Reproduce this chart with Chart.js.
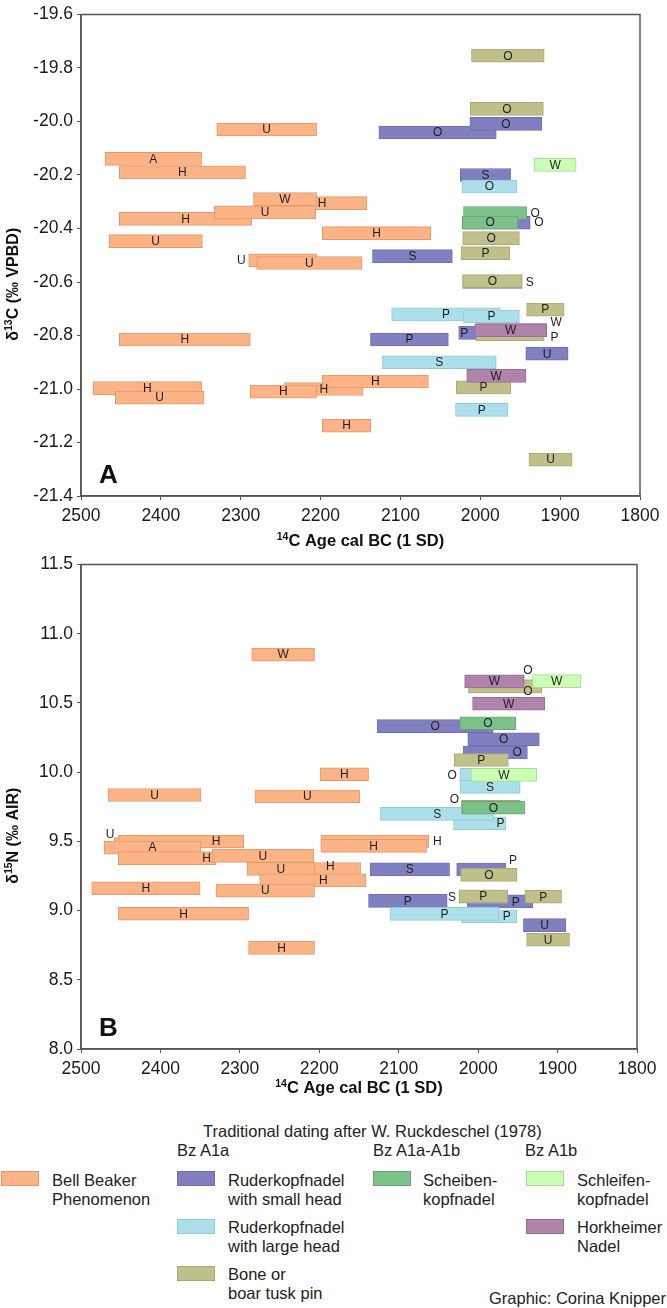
<!DOCTYPE html>
<html>
<head>
<meta charset="utf-8">
<script src="https://cdn.jsdelivr.net/npm/chart.js@4.4.0/dist/chart.umd.min.js"></script>
<style>
  body { margin: 0; background: #fff; width: 667px; height: 1308px; position: relative; overflow: hidden;
         font-family: "Liberation Sans", Arial, sans-serif; color: #222; }
  canvas { position: absolute; left: 0; }
  #isoC { top: 0; }
  #isoN { top: 550px; }
  .t { position: absolute; font-size: 16.5px; line-height: 18.5px; white-space: nowrap; }
  .sw { position: absolute; width: 36px; height: 13px; border: 1px solid; }
</style>
</head>
<body>
<canvas id="isoC" width="667" height="550"></canvas>
<canvas id="isoN" width="667" height="555"></canvas>

<div class="t" style="left:203px;top:1122px">Traditional dating after W. Ruckdeschel (1978)</div>
<div class="t" style="left:177px;top:1141px">Bz A1a</div>
<div class="t" style="left:373px;top:1141px">Bz A1a-A1b</div>
<div class="t" style="left:525px;top:1141px">Bz A1b</div>

<div class="sw" style="left:1px;top:1171px;background:#fcb386;border-color:#e09a6e"></div>
<div class="t" style="left:52px;top:1171px">Bell Beaker<br>Phenomenon</div>
<div class="sw" style="left:177px;top:1171px;background:#8080c0;border-color:#7070b0"></div>
<div class="t" style="left:228px;top:1171px">Ruderkopfnadel<br>with small head</div>
<div class="sw" style="left:177px;top:1219px;background:#addfeb;border-color:#93c8d6"></div>
<div class="t" style="left:228px;top:1218px">Ruderkopfnadel<br>with large head</div>
<div class="sw" style="left:177px;top:1266px;background:#c0c08a;border-color:#a8a874"></div>
<div class="t" style="left:228px;top:1265px">Bone or<br>boar tusk pin</div>
<div class="sw" style="left:373px;top:1171px;background:#7dc18a;border-color:#66a874"></div>
<div class="t" style="left:423px;top:1171px">Scheiben-<br>kopfnadel</div>
<div class="sw" style="left:526px;top:1171px;background:#ccfdb5;border-color:#a9dd94"></div>
<div class="t" style="left:577px;top:1171px">Schleifen-<br>kopfnadel</div>
<div class="sw" style="left:526px;top:1219px;background:#b083ab;border-color:#966c92"></div>
<div class="t" style="left:577px;top:1218px">Horkheimer<br>Nadel</div>
<div class="t" style="right:1px;top:1289px">Graphic: Corina Knipper</div>

<script>
// series order = drawing order (first drawn at the bottom)
const seriesKeys = ['bellBeaker', 'rkSmall', 'rkLarge', 'bonePin', 'scheiben', 'schleifen', 'horkheimer'];
const seriesNames = ['Bell Beaker Phenomenon', 'Ruderkopfnadel with small head', 'Ruderkopfnadel with large head',
                     'Bone or boar tusk pin', 'Scheibenkopfnadel', 'Schleifenkopfnadel', 'Horkheimer Nadel'];
const fills = ['#fcb386', '#8080c0', '#addfeb', '#c0c08a', '#7dc18a', '#ccfdb5', '#b083ab'];
const edges = ['#e09a6e', '#7070b0', '#93c8d6', '#a8a874', '#66a874', '#a9dd94', '#966c92'];

const yearTicks = [2500, 2400, 2300, 2200, 2100, 2000, 1900, 1800];
const carbonTicks = [-21.4, -21.2, -21.0, -20.8, -20.6, -20.4, -20.2, -20.0, -19.8, -19.6];
const nitrogenTicks = [8.0, 8.5, 9.0, 9.5, 10.0, 10.5, 11.0, 11.5];

// rows: [cal BC from, cal BC to, isotope value, site code]
// panel A, d13C
const carbonBellBeaker = [
  [2330, 2205, -20.03, 'U'], [2470, 2349, -20.14, 'A'], [2452, 2294, -20.19, 'H'],
  [2254, 2142, -20.305, 'H'], [2284, 2205, -20.29, 'W'], [2452, 2286, -20.364, 'H'],
  [2333, 2206, -20.34, 'U'], [2465, 2348, -20.447, 'U'], [2198, 2062, -20.417, 'H'],
  [2290, 2205, -20.519, 'U'], [2280, 2148, -20.529, 'U'], [2452, 2288, -20.815, 'H'],
  [2485, 2349, -20.997, 'H'], [2457, 2346, -21.032, 'U'], [2245, 2147, -21.0, 'H'],
  [2288, 2205, -21.01, 'H'], [2198, 2065, -20.972, 'H'], [2198, 2137, -21.137, 'H']
];
const carbonRkSmall = [
  [2127, 1980, -20.041, 'O'], [2013, 1923, -20.009, 'O'], [2025, 1962, -20.2, 'S'],
  [2020, 1937.5, -20.378, 'O'], [2135, 2035, -20.503, 'S'], [2022, 1948, -20.6, 'S'],
  [2027, 1931, -20.79, 'P'], [2137.5, 2040, -20.815, 'P'], [1943, 1890, -20.868, 'U']
];
const carbonRkLarge = [
  [2023, 1954, -20.243, 'O'], [2111, 1975, -20.721, 'P'], [2021, 1951, -20.729, 'P'],
  [2122.5, 1980, -20.9, 'S'], [2031, 1965.5, -21.078, 'P']
];
const carbonBonePin = [
  [2011, 1920, -19.754, 'O'], [2012.5, 1921, -19.953, 'O'], [2022, 1951, -20.436, 'O'],
  [2024, 1963, -20.492, 'P'], [2022, 1947.5, -20.597, 'O'], [1942, 1895, -20.703, 'P'],
  [2005, 1920, -20.795, 'P'], [2030, 1962, -20.994, 'P'], [1939, 1885, -21.264, 'U']
];
const carbonScheiben = [[2021, 1942, -20.342, 'O'], [2022.5, 1953, -20.378, 'O']];
const carbonSchleifen = [[1932.5, 1880, -20.162, 'W']];
const carbonHorkheimer = [[2005, 1917, -20.78, 'W'], [2007, 1917, -20.781, 'W'], [2017, 1943, -20.951, 'W']];

// panel B, d15N
const nitrogenBellBeaker = [
  [2285, 2206, 10.849, 'W'], [2199, 2138, 9.985, 'H'], [2466, 2349, 9.835, 'U'],
  [2281, 2149, 9.824, 'U'], [2458, 2350, 9.48, 'U'], [2453, 2295, 9.499, 'H'],
  [2471, 2349, 9.455, 'A'], [2453, 2330, 9.379, 'H'], [2335, 2207, 9.395, 'U'],
  [2270, 2148, 9.30, 'H'], [2291, 2206, 9.301, 'U'], [2275, 2141, 9.218, 'H'],
  [2198, 2062, 9.499, 'H'], [2198, 2065, 9.467, 'H'], [2486.5, 2350, 9.161, 'H'],
  [2330, 2206, 9.144, 'U'], [2453, 2289, 8.977, 'H'], [2289, 2206, 8.731, 'H']
];
const nitrogenRkSmall = [
  [2127, 1981, 10.333, 'O'], [2013, 1923, 10.237, 'O'], [2019, 1938, 10.142, 'O'],
  [2136, 2036, 9.298, 'S'], [2027, 1965, 9.297, 'P'], [2138, 2039, 9.07, 'P'],
  [2014, 1931, 9.066, 'P'], [1943, 1889.5, 8.895, 'U']
];
const nitrogenRkLarge = [
  [2023, 1985, 9.98, 'O'], [2023, 1947, 9.893, 'S'], [2031, 1965, 9.631, 'P'],
  [2123, 1980, 9.698, 'S'], [2024, 1963, 9.10, 'S'], [2021, 1951, 8.958, 'P'],
  [2111, 1974, 8.976, 'P']
];
const nitrogenBonePin = [
  [2012, 1920, 10.62, 'O'], [2012, 1920, 10.62, 'O'], [2030, 1962, 10.088, 'P'],
  [2021, 1947, 9.749, 'O'], [2022, 1951, 9.258, 'O'], [2024, 1963, 9.102, 'P'],
  [1941, 1895, 9.1, 'P'], [1939, 1885, 8.789, 'U']
];
const nitrogenScheiben = [[2023, 1952.5, 10.353, 'O'], [2020, 1941.5, 9.743, 'O']];
const nitrogenSchleifen = [[1931.5, 1870.6, 10.658, 'W'], [2009, 1926, 9.98, 'W']];
const nitrogenHorkheimer = [[2017, 1942, 10.656, 'W'], [2007, 1916, 10.494, 'W']];

// where a site code is not centred on its bar: 'r' right of bar, 'l' left of bar, [year, value] anchor
const carbonTagSpots = {
  bellBeaker: { 9: 'l' },
  rkSmall: { 3: 'r', 5: 'r', 6: [2020, -20.79] },
  bonePin: { 6: [1907, -20.805] },
  scheiben: { 0: 'r' },
  horkheimer: { 0: [1905, -20.752] }
};
const nitrogenTagSpots = {
  bellBeaker: { 4: [2463.5, 9.552], 5: [2330, 9.499], 7: [2342, 9.379], 9: [2186, 9.321], 11: [2195, 9.218], 12: 'r' },
  rkSmall: { 2: [1951, 10.141], 4: [1956, 9.364], 6: [1952.5, 9.064] },
  rkLarge: { 0: 'l', 2: [1972, 9.631], 4: 'l', 5: [1964, 8.958] },
  bonePin: { 0: [1937.4, 10.586], 1: [1937.4, 10.735], 3: [2030, 9.802] }
};

const FONT = '"Liberation Sans", Arial, sans-serif';
Chart.defaults.font.family = FONT;

function buildDatasets(rows, spots) {
  return seriesKeys.map((key, i) => ({
    label: seriesNames[i],
    key: key,
    spots: spots[key] || {},
    data: rows[key].map(r => ({ x: [r[0], r[1]], y: r[2], code: r[3] })),
    backgroundColor: fills[i],
    borderColor: edges[i],
    borderWidth: 1,
    borderSkipped: false,
    barThickness: 13,
    grouped: false,
    order: seriesKeys.length - i
  }));
}

// site codes on the bars
const tagPlugin = {
  id: 'tags',
  afterDatasetsDraw(chart) {
    const ctx = chart.ctx, xs = chart.scales.x, ys = chart.scales.y;
    ctx.save();
    ctx.font = '12px ' + FONT;
    ctx.fillStyle = '#1e1e1e';
    ctx.textBaseline = 'middle';
    chart.data.datasets.forEach((ds, di) => {
      chart.getDatasetMeta(di).data.forEach((bar, j) => {
        const spot = ds.spots[j];
        const left = Math.min(bar.x, bar.base), right = Math.max(bar.x, bar.base);
        let x = (left + right) / 2, y = bar.y;
        ctx.textAlign = 'center';
        if (spot === 'r') { x = right + 4; ctx.textAlign = 'left'; }
        else if (spot === 'l') { x = left - 3; ctx.textAlign = 'right'; }
        else if (Array.isArray(spot)) { x = xs.getPixelForValue(spot[0]); y = ys.getPixelForValue(spot[1]); }
        ctx.fillText(ds.data[j].code, x, y + 0.5);
      });
    });
    ctx.restore();
  }
};

function drawRich(ctx, parts, cx, baseY) {
  let w = 0;
  parts.forEach(p => { ctx.font = p.font; w += ctx.measureText(p.text).width; });
  let x = cx - w / 2;
  ctx.textAlign = 'left';
  ctx.textBaseline = 'alphabetic';
  parts.forEach(p => {
    ctx.font = p.font;
    ctx.fillText(p.text, x, baseY - (p.rise || 0));
    x += ctx.measureText(p.text).width;
  });
}

// frame, axis titles with superscripts and the panel letter
function makeDecor(cfg) {
  return {
    id: 'decor',
    afterDraw(chart) {
      const ctx = chart.ctx, a = chart.chartArea;
      ctx.save();
      ctx.strokeStyle = '#555';
      ctx.lineWidth = 1.5;
      ctx.strokeRect(a.left, a.top, a.right - a.left, a.bottom - a.top);

      ctx.fillStyle = '#111';
      ctx.font = 'bold 26px ' + FONT;
      ctx.textAlign = 'left';
      ctx.textBaseline = 'alphabetic';
      ctx.fillText(cfg.letter, a.left + 18, a.bottom - 13);

      const big = 'bold 16.5px ' + FONT, sup = 'bold 10.5px ' + FONT;
      drawRich(ctx, [{ text: '14', font: sup, rise: 6 }, { text: 'C Age cal BC (1 SD)', font: big }],
               (a.left + a.right) / 2, a.bottom + cfg.xTitleGap);

      const yBig = 'bold 16px ' + FONT, ySup = 'bold 10.5px ' + FONT;
      ctx.translate(12, (a.top + a.bottom) / 2 + 29);
      ctx.rotate(-Math.PI / 2);
      drawRich(ctx, [{ text: 'δ', font: yBig }, { text: cfg.isotope[0], font: ySup, rise: 6 },
                     { text: cfg.isotope[1], font: yBig }], 0, 6);
      ctx.restore();
    }
  };
}

function makeChart(id, rows, spots, ticks, pad, xHeight, decor) {
  const tickFont = { size: 17.5, family: FONT };
  return new Chart(document.getElementById(id), {
    type: 'bar',
    data: { datasets: buildDatasets(rows, spots) },
    options: {
      indexAxis: 'y',
      responsive: false,
      animation: false,
      devicePixelRatio: 1,
      layout: { padding: pad },
      plugins: { legend: { display: false }, tooltip: { enabled: false } },
      scales: {
        x: {
          type: 'linear', position: 'bottom', reverse: true,
          min: yearTicks[yearTicks.length - 1], max: yearTicks[0],
          afterBuildTicks: s => { s.ticks = yearTicks.map(v => ({ value: v })); },
          afterFit: s => { s.height = xHeight; },
          ticks: { callback: v => String(v), font: tickFont, color: '#1a1a1a', padding: 6, maxRotation: 0, autoSkip: false },
          grid: { drawOnChartArea: false, drawTicks: true, tickLength: 4, color: '#555', offset: false },
          border: { color: '#555', width: 1.5 }
        },
        y: {
          type: 'linear', offset: false,
          min: ticks[0], max: ticks[ticks.length - 1],
          afterBuildTicks: s => { s.ticks = ticks.map(v => ({ value: v })); },
          afterFit: s => { s.width = 81; },
          ticks: { callback: v => v.toFixed(1), font: tickFont, color: '#1a1a1a', padding: 4, autoSkip: false },
          grid: { drawOnChartArea: false, drawTicks: true, tickLength: 4, color: '#555', offset: false },
          border: { color: '#555', width: 1.5 }
        }
      }
    },
    plugins: [tagPlugin, makeDecor(decor)]
  });
}

makeChart('isoC', {
  bellBeaker: carbonBellBeaker, rkSmall: carbonRkSmall, rkLarge: carbonRkLarge, bonePin: carbonBonePin,
  scheiben: carbonScheiben, schleifen: carbonSchleifen, horkheimer: carbonHorkheimer
}, carbonTagSpots, carbonTicks, { top: 10, right: 27, left: 0, bottom: 0 }, 54,
  { letter: 'A', isotope: ['13', 'C (‰ VPBD)'], xTitleGap: 50 });

makeChart('isoN', {
  bellBeaker: nitrogenBellBeaker, rkSmall: nitrogenRkSmall, rkLarge: nitrogenRkLarge, bonePin: nitrogenBonePin,
  scheiben: nitrogenScheiben, schleifen: nitrogenSchleifen, horkheimer: nitrogenHorkheimer
}, nitrogenTagSpots, nitrogenTicks, { top: 14, right: 30, left: 0, bottom: 0 }, 56,
  { letter: 'B', isotope: ['15', 'N (‰ AIR)'], xTitleGap: 44 });
</script>
</body>
</html>
